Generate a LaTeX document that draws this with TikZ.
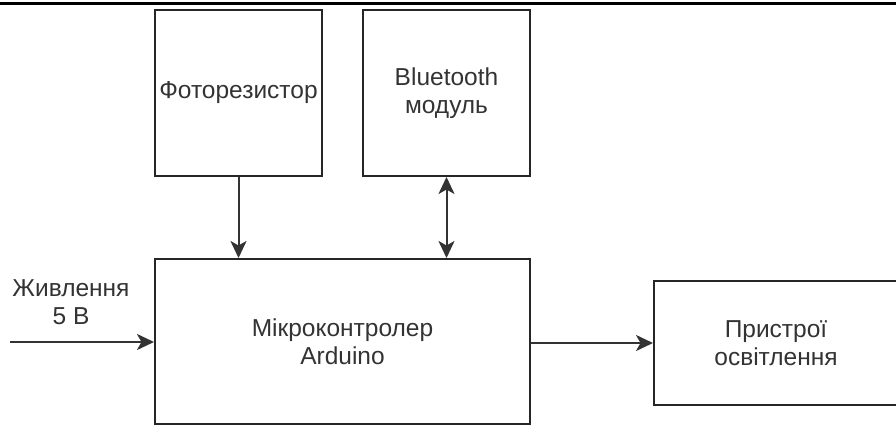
\documentclass[tikz,border=0pt]{standalone}
\usepackage{fontspec}
\setmainfont{Liberation Sans}
\usetikzlibrary{positioning,arrows.meta}

\begin{document}
\begin{tikzpicture}[x=1pt, y=-1pt, font=\fontsize{24.5}{28}\selectfont,
  >={Stealth[length=17pt, width=16pt, inset=4.5pt]},
  blk/.style={draw=black!85, line width=2pt, text=black!80, align=center, inner sep=0pt},
  arr/.style={->, line width=2pt, black!80}]
  \useasboundingbox (0,0) rectangle (896,425);
  % top rule
  \draw[line width=3pt] (0,4) -- (896,4);
  % upper blocks
  \node[blk, minimum width=167pt, minimum height=166pt] (photo) at (238.5,93) {Фоторезистор};
  \node[blk, minimum width=167pt, minimum height=166pt] (bt) at (446.5,93) {Bluetooth\\модуль};
  % controller and output
  \node[blk, minimum width=375pt, minimum height=165pt] (mcu) at (342.5,341.5) {Мікроконтролер\\Arduino};
  \node[blk, minimum width=244pt, minimum height=124pt] (light) at (776,343) {Пристрої\\освітлення};
  % power input
  \node[text=black!80, align=center] (pwr) at (71,302) {Живлення\\5 В};
  \coordinate (pin) at (10,342);
  % connectors
  \draw[arr] (photo.south) -- (photo.south |- mcu.north);
  \draw[arr, <->] (bt.south) -- (bt.south |- mcu.north);
  \draw[arr] (pin) -- (mcu.west |- pin);
  \draw[arr] (mcu.east |- light.west) -- (light.west);
\end{tikzpicture}
\end{document}
